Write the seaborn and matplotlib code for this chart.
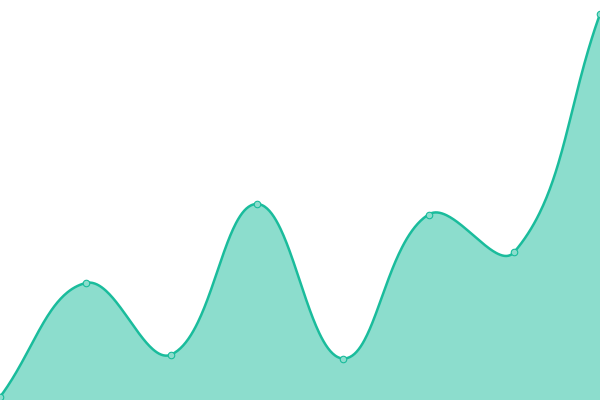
import numpy as np
import pandas as pd
import matplotlib
matplotlib.use("Agg")
import matplotlib.pyplot as plt
import seaborn as sns

# ---- data ----
categories = ["P1", "P2", "P3", "P4", "P5", "P6", "P7", "P8"]
values = [3, 117, 45.5, 196, 41.5, 185.5, 148, 386]

LINE = "#1abc9c"
FILL = (26/255, 188/255, 156/255, 0.5)

sns.set_theme(style="white")
fig = plt.figure(figsize=(6, 4), dpi=100)
ax = fig.add_axes([0, 0, 1, 1])
ax.set_xlim(0, len(categories) - 1)
ax.set_ylim(0, 400)
ax.set_axis_off()

df = pd.DataFrame({"cat": categories, "x": np.arange(len(categories)), "y": values})

# Chart.js-style spline (tension 0.4) computed in display space
pts = ax.transData.transform(np.column_stack([df["x"], df["y"]]))
t = 0.4
n = len(pts)
cp_prev = pts.copy()
cp_next = pts.copy()
for i in range(n):
    p0 = pts[i - 1] if i > 0 else pts[i]
    p1 = pts[i]
    p2 = pts[i + 1] if i < n - 1 else pts[i]
    d01 = np.hypot(*(p1 - p0))
    d12 = np.hypot(*(p2 - p1))
    tot = d01 + d12
    s01 = d01 / tot if tot else 0
    s12 = d12 / tot if tot else 0
    cp_prev[i] = p1 - t * s01 * (p2 - p0)
    cp_next[i] = p1 + t * s12 * (p2 - p0)

curve = []
ts = np.linspace(0, 1, 80)
for i in range(n - 1):
    a, b, c, d = pts[i], cp_next[i], cp_prev[i + 1], pts[i + 1]
    seg = ((1 - ts)[:, None] ** 3 * a + 3 * ((1 - ts) ** 2 * ts)[:, None] * b
           + 3 * ((1 - ts) * ts ** 2)[:, None] * c + (ts ** 3)[:, None] * d)
    curve.append(seg if i == 0 else seg[1:])
curve = np.vstack(curve)
curve = ax.transData.inverted().transform(curve)
cdf = pd.DataFrame({"x": curve[:, 0], "y": curve[:, 1]})

ax.fill_between(cdf["x"], cdf["y"], 0, color=FILL, linewidth=0)
sns.lineplot(data=cdf, x="x", y="y", sort=False, color=LINE, linewidth=1.8, ax=ax)
sns.scatterplot(data=df, x="x", y="y", s=22, color="#8cddcd", edgecolor=LINE,
                linewidth=0.8, ax=ax, zorder=5, clip_on=False)
ax.set_xlim(0, len(categories) - 1)
ax.set_ylim(0, 400)
ax.set_axis_off()

fig.savefig("out.png", dpi=100)
